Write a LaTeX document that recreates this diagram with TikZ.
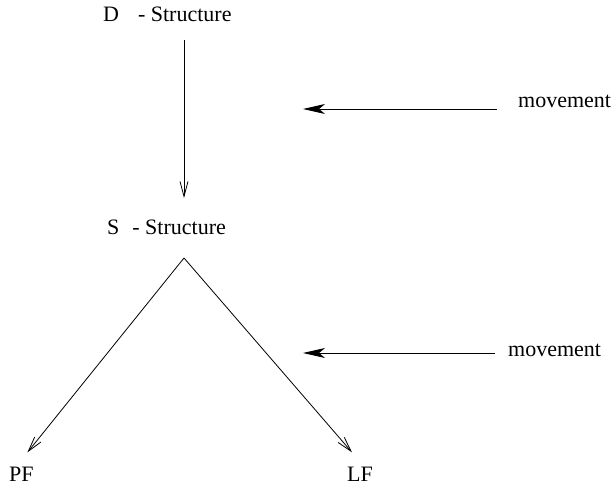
\documentclass[tikz,border=0pt]{standalone}
\usepackage{fontspec}
\setmainfont{Liberation Serif}
\usetikzlibrary{arrows.meta,calc}
\tikzset{
  lbl/.style={inner sep=0pt, font=\fontsize{22}{26}\selectfont},
  openarrow/.style={line width=0.8pt, -{Straight Barb[length=15pt,width=8pt,line width=0.8pt]}},
  fillarrow/.style={line width=0.9pt, -{Stealth[length=22pt,width=10pt,inset=6pt]}}
}
\begin{document}
\begin{tikzpicture}[x=1pt,y=-1pt]
\useasboundingbox (0,0) rectangle (616,486);
\node[lbl, anchor=base west] (D) at (103,22) {D\hspace{19pt}- Structure};
\node[lbl, anchor=base west] (S) at (107,235) {S\hspace{13pt}- Structure};
\node[lbl, anchor=base west] (PF) at (9,481) {PF};
\node[lbl, anchor=base west] (LF) at (347,481) {LF};
\node[lbl, anchor=base west] (mv1) at (518,108) {movement};
\node[lbl, anchor=base west] (mv2) at (508,357) {movement};
\coordinate (apex) at ($(S.base west)+(77,23)$);
\coordinate (m1) at (303,109);
\coordinate (m2) at (303,353);
\draw[openarrow] ($(D.base west)+(81,18)$) -- ($(S.base west)+(77,-37)$);
\draw[openarrow] (apex) -- ($(PF.north)+(6,-14)$);
\draw[openarrow] (apex) -- ($(LF.north)+(-8,-14)$);
\draw[fillarrow] ($(mv1.base west)+(-21,1)$) -- (m1);
\draw[fillarrow] ($(mv2.base west)+(-13,-4)$) -- (m2);
\end{tikzpicture}
\end{document}
